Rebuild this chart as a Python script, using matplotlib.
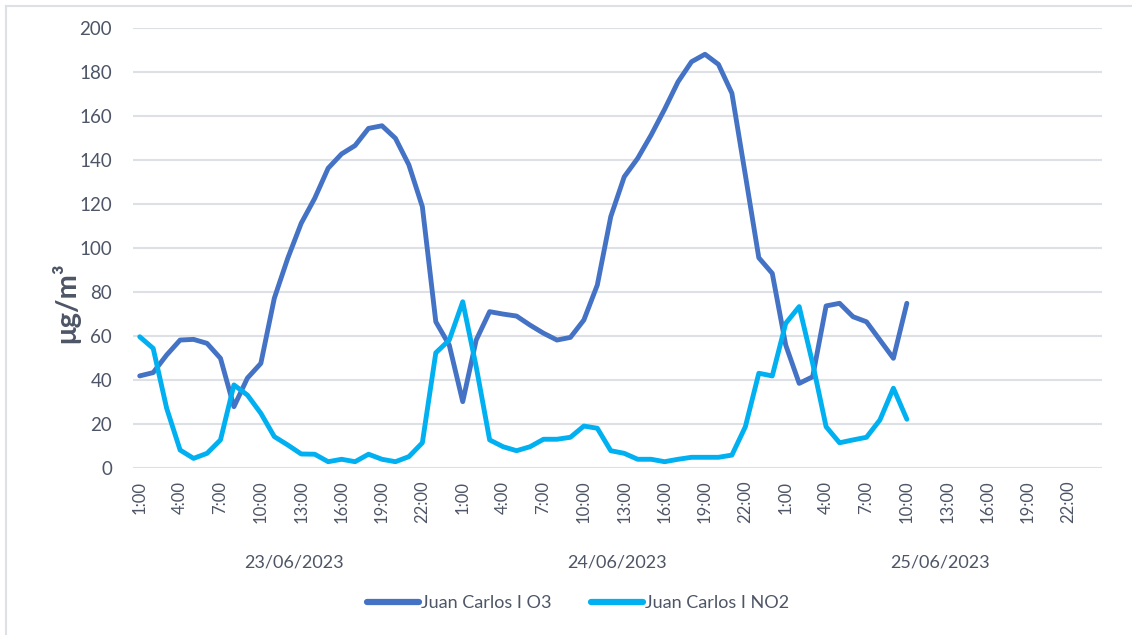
import matplotlib
matplotlib.use("Agg")
import matplotlib.pyplot as plt
from matplotlib.lines import Line2D
from matplotlib.transforms import blended_transform_factory

plt.rcParams['font.family'] = ['Lato', 'DejaVu Sans']

days = ["23/06/2023", "24/06/2023", "25/06/2023"]
hours = [f"{h}:00" for h in range(1, 25)]
categories = [(d, h) for d in days for h in hours]

o3 = [42, 43.5, 51.5, 58.3, 58.6, 56.8, 50, 28, 41, 47.7, 77.3, 95.5, 111.4, 122.7,
      136.4, 142.9, 146.7, 154.5, 155.7, 150, 137.9, 118.9, 66.6, 56,
      30.3, 58.3, 71.2, 70.1, 69.2, 65.1, 61.4, 58.3, 59.5, 67.4, 83.3, 114.4, 132.5,
      140.9, 151.5, 163.2, 175.7, 184.8, 188.2, 183.6, 170.5, 133.3, 95.7, 88.6,
      56, 38.6, 41.6, 73.8, 75, 68.9, 66.6, 58.3, 50, 75]
no2 = [59.8, 54.5, 27.3, 8.3, 4.5, 6.8, 12.9, 37.9, 33.3, 25, 14.4, 10.6, 6.5, 6.4,
       3, 4.1, 3, 6.4, 4.1, 3, 5.3, 11.6, 52.5, 58.3,
       75.7, 46.2, 12.9, 9.8, 8, 9.8, 13.2, 13.2, 14.1, 19.2, 18.2, 8, 6.8, 4.1,
       4.1, 3, 4.1, 5, 5, 5, 6, 18.9, 43.2, 42,
       65.9, 73.5, 47.7, 18.9, 11.6, 12.9, 14.1, 22, 36.4, 22.3]
series_names = ["Juan Carlos I O3", "Juan Carlos I NO2"]
colors = ["#4472C4", "#00B0F0"]

W, H = 1132, 635
fig = plt.figure(figsize=(W / 100, H / 100), dpi=100)
ax = fig.add_axes([133 / W, 1 - 468.3 / H, (1102 - 133) / W, (468.3 - 28.3) / H])

text_color = "#4d5566"
x = list(range(len(categories)))
ax.plot(x[:len(o3)], o3, color=colors[0], lw=3.5, label=series_names[0], solid_capstyle='round', solid_joinstyle='round')
ax.plot(x[:len(no2)], no2, color=colors[1], lw=3.5, label=series_names[1], solid_capstyle='round', solid_joinstyle='round')

ax.set_xlim(-0.5, len(categories) - 0.5)
ax.set_ylim(0, 200)
ax.set_yticks(range(0, 201, 20))
ax.yaxis.grid(True, color="#dde1e6", lw=1.5)
ax.set_axisbelow(True)
for s in ax.spines.values():
    s.set_visible(False)
ax.tick_params(axis='y', length=0, pad=15, labelsize=13.5, labelcolor=text_color)

tick_idx = list(range(0, len(categories), 3))
ax.set_xticks(tick_idx)
ax.set_xticklabels([categories[i][1] for i in tick_idx], rotation=90, fontsize=12,
                   color=text_color, va='top', ha='center')
ax.tick_params(axis='x', length=0, pad=9)

fig.text(66 / W, 1 - 303 / H, "μg/m³", rotation=90, ha='center', va='center',
         fontsize=21, fontweight='bold', color="#4d5566")

tr = blended_transform_factory(ax.transData, fig.transFigure)
for k, d in enumerate(days):
    ax.text(k * 24 + 11.5, 1 - 563 / H, d, transform=tr, ha='center', va='center',
            fontsize=13, color=text_color)

leg = fig.legend(loc='center', bbox_to_anchor=(578 / W, 1 - 603 / H), ncol=2, frameon=False,
                 fontsize=13, handlelength=2.9, handletextpad=0.1, columnspacing=2.2)
for t in leg.get_texts():
    t.set_color(text_color)
for l in leg.get_lines():
    l.set_linewidth(4.5)

fig.add_artist(Line2D([6 / W, 1], [1 - 6 / H, 1 - 6 / H], transform=fig.transFigure, color="#dde1e6", lw=1.5))
fig.add_artist(Line2D([6 / W, 6 / W], [0, 1 - 6 / H], transform=fig.transFigure, color="#dde1e6", lw=1.5))

fig.savefig("out.png", dpi=100)
